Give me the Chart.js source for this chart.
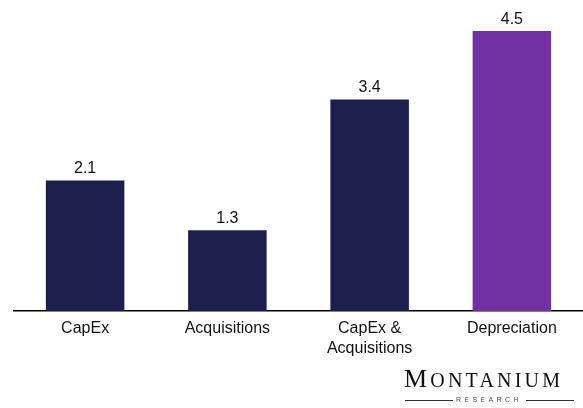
<!DOCTYPE html>
<html>
<head>
<meta charset="utf-8">
<script src="https://cdn.jsdelivr.net/npm/chart.js@4"></script>
<style>
  body { margin: 0; background: #fff; }
  #wrap { position: relative; width: 583px; height: 408px; overflow: hidden; }
  #logo { position: absolute; left: 404px; top: 366px; width: 170px;
          font-family: "Liberation Serif", "DejaVu Serif", serif; color: #111; }
  #logo .name { font-size: 20px; letter-spacing: 3.2px; line-height: 25px; white-space: nowrap; }
  #logo .name .big { font-size: 26px; }
  #logo .sub { position: relative; margin-top: 2px; text-align: center; font-family: "Liberation Sans", Arial, sans-serif;
               font-size: 7px; letter-spacing: 3.4px; color: #555; line-height: 10px; }
  #logo .sub:before, #logo .sub:after { content: ""; position: absolute; top: 5px; height: 1px;
               background: #333; width: 48px; }
  #logo .sub:before { left: 1px; }
  #logo .sub:after { right: 0px; }
</style>
</head>
<body>
<div id="wrap">
  <canvas id="chart" width="583" height="408"></canvas>
  <div id="logo">
    <div class="name"><span class="big">M</span>ONTANIUM</div>
    <div class="sub">RESEARCH</div>
  </div>
</div>
<script>
const categories = [['CapEx'], ['Acquisitions'], ['CapEx &', 'Acquisitions'], ['Depreciation']];
const values = [2.1, 1.3, 3.4, 4.5];
const barColors = ['#1a1f4e', '#1a1f4e', '#1a1f4e', '#7030a0'];

// étiquettes de valeur au-dessus des barres
const valueLabels = {
    id: 'valueLabels',
    afterDatasetsDraw(chart) {
        const ctx = chart.ctx;
        const meta = chart.getDatasetMeta(0);
        ctx.save();
        ctx.font = '16px "Liberation Sans", Arial, sans-serif';
        ctx.fillStyle = '#111';
        ctx.textAlign = 'center';
        ctx.textBaseline = 'bottom';
        meta.data.forEach((bar, i) => {
            ctx.fillText(values[i].toFixed(1), bar.x, bar.y - 4);
        });
        ctx.restore();
    }
};

new Chart(document.getElementById('chart').getContext('2d'), {
    type: 'bar',
    data: {
        labels: categories,
        datasets: [{
            data: values,
            backgroundColor: barColors,
            barPercentage: 1,
            categoryPercentage: 0.552
        }]
    },
    options: {
        responsive: false,
        animation: false,
        layout: { padding: { left: 14, right: -4, top: 0, bottom: 0 } },
        plugins: { legend: { display: false }, tooltip: { enabled: false } },
        scales: {
            x: {
                grid: { display: false, drawTicks: false },
                border: { display: true, color: '#000', width: 1.5 },
                ticks: {
                    color: '#111',
                    padding: 8,
                    maxRotation: 0,
                    font: { family: '"Liberation Sans", Arial, sans-serif', size: 16, lineHeight: 1.25 }
                },
                afterFit(scale) { scale.height = 97; }
            },
            y: {
                display: false,
                min: 0,
                max: 5
            }
        }
    },
    plugins: [valueLabels]
});
</script>
</body>
</html>
